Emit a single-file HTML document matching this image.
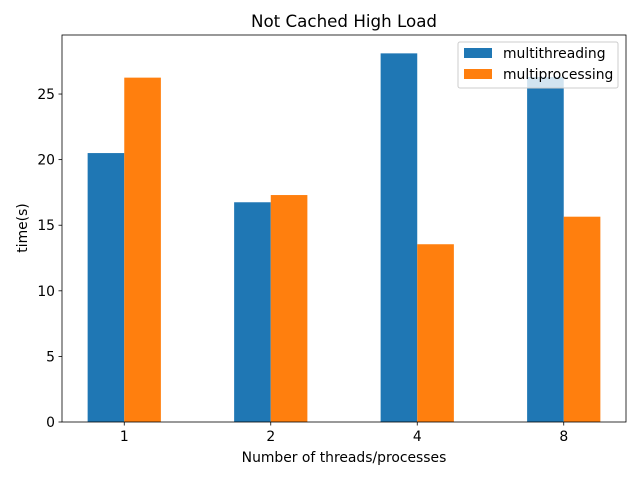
<!DOCTYPE html>
<html><head><meta charset="utf-8"><style>
body{margin:0;background:#fff;font-family:"Liberation Sans","DejaVu Sans",sans-serif}
svg text{font-family:"DejaVu Sans","Liberation Sans",sans-serif;fill:#000}
</style></head><body>
<svg id="chart" width="640" height="480" viewBox="0 0 640 480" xmlns="http://www.w3.org/2000/svg">
<rect width="640" height="480" fill="#fff"/>
<text x="344" y="27" font-size="16.7" text-anchor="middle">Not Cached High Load</text>
<g id="bars"></g>
<g id="axes"></g>
<text x="344" y="462" font-size="13.9" text-anchor="middle">Number of threads/processes</text>
<text transform="translate(27,228) rotate(-90)" font-size="13.9" text-anchor="middle">time(s)</text>
<g>
<rect x="458" y="42" width="160" height="46" fill="#fff" fill-opacity="0.8" stroke="#ccc" rx="2"/>
<rect x="464" y="48" width="28" height="10" fill="#1f77b4"/>
<text x="503" y="58" font-size="13.9">multithreading</text>
<rect x="464" y="69" width="28" height="10" fill="#ff7f0e"/>
<text x="503" y="79" font-size="13.9">multiprocessing</text>
</g>
</svg>
<script>
const categories = ["1","2","4","8"];
const multithreading = [20.5, 16.75, 28.1, 26.3];
const multiprocessing = [26.25, 17.3, 13.55, 15.65];
const yTicks = [0,5,10,15,20,25];

const L=62,R=626,T=35,B=422;
const xMin=-0.425,xMax=categories.length-1+0.425;
const yMax=29.5;
const xs=v=>L+(v-xMin)/(xMax-xMin)*(R-L);
const ys=v=>B-v/yMax*(B-T);
const NS="http://www.w3.org/2000/svg";
const bars=document.getElementById('bars'),axes=document.getElementById('axes');
const bw=0.25;
function mk(tag,attrs,parent){const e=document.createElementNS(NS,tag);for(const k in attrs)e.setAttribute(k,attrs[k]);parent.appendChild(e);return e;}
[[multithreading,"#1f77b4",-bw,"multithreading"],[multiprocessing,"#ff7f0e",0,"multiprocessing"]].forEach(([vals,col,off,nm])=>{
  vals.forEach((v,i)=>{
    const r=mk('rect',{x:xs(i+off),y:ys(v),width:xs(i+off+bw)-xs(i+off),height:B-ys(v),fill:col},bars);
    
    
  });
});
const frame=mk('rect',{x:L,y:T,width:R-L,height:B-T,fill:"none",stroke:"#000","stroke-width":0.8},axes);


categories.forEach((c,i)=>{
  const x=xs(i);
  mk('line',{x1:x,x2:x,y1:B,y2:B+3.5,stroke:"#000","stroke-width":0.8},axes);
  const t=mk('text',{x:x,y:B+19,"font-size":13.9,"text-anchor":"middle"},axes);
  t.textContent=c;
  
  
});
yTicks.forEach(v=>{
  const y=ys(v);
  mk('line',{x1:L-3.5,x2:L,y1:y,y2:y,stroke:"#000","stroke-width":0.8},axes);
  const t=mk('text',{x:L-7,y:y+5,"font-size":13.9,"text-anchor":"end"},axes);
  t.textContent=v;
  
  
});
</script>
</body></html>
